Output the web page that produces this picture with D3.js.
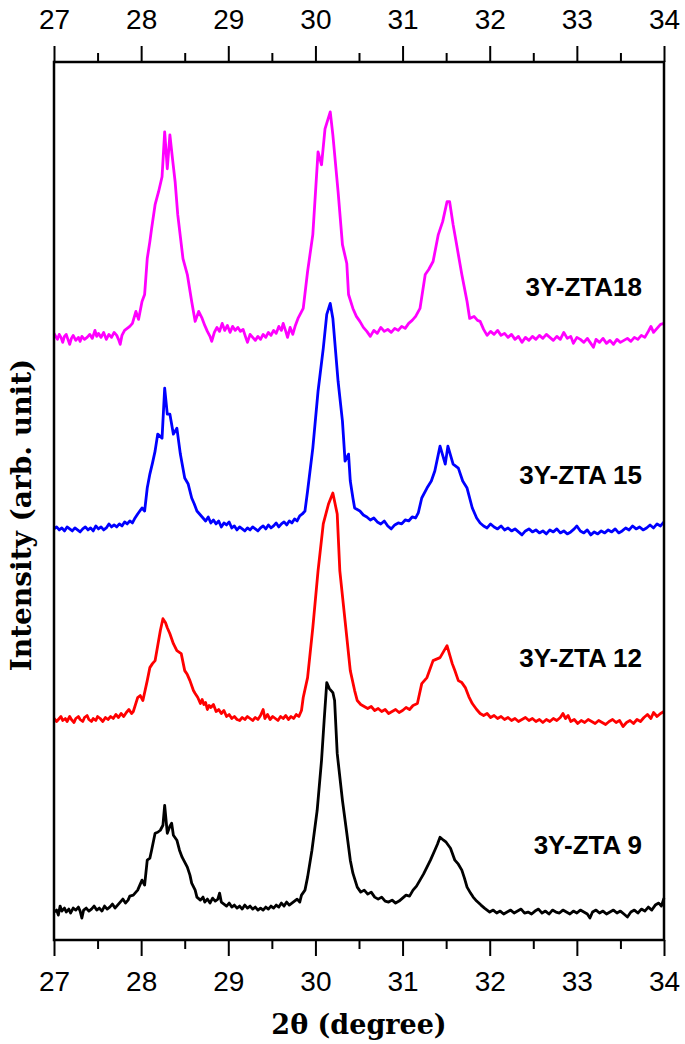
<!DOCTYPE html>
<html>
<head>
<meta charset="utf-8">
<script src="https://cdn.jsdelivr.net/npm/d3@7"></script>
<style>
  body { margin: 0; background: #fff; }
  svg { display: block; }
</style>
</head>
<body>
<svg id="chart" width="685" height="1044"></svg>
<script>
// x-axis ticks (2theta, degree)
const majorTicks = [27, 28, 29, 30, 31, 32, 33, 34];
const minorTicks = [27.5, 28.5, 29.5, 30.5, 31.5, 32.5, 33.5];

// sample names, colours and vertical stacking offsets (arb. unit)
const samples = ["3Y-ZTA 9", "3Y-ZTA 12", "3Y-ZTA 15", "3Y-ZTA18"];
const colors = ["#000000", "#ff0000", "#0000ff", "#ff00ff"];
const offsets = [10, 200, 390, 580];

// [2theta, intensity]
const zta9 = [
  [27.00,18],[27.03,20],[27.05,15],[27.07,24],[27.09,19],[27.12,22],[27.14,18],[27.17,21],[27.19,17],[27.22,22],
  [27.25,20],[27.28,23],[27.30,19],[27.32,12],[27.34,20],[27.37,22],[27.40,19],[27.43,21],[27.46,24],[27.49,20],
  [27.52,22],[27.55,19],[27.58,24],[27.61,21],[27.64,23],[27.67,26],[27.70,22],[27.73,25],[27.76,28],[27.79,31],
  [27.82,27],[27.85,30],[27.87,34],[27.91,35],[27.96,40],[28.01,50],[28.04,45],[28.07,70],[28.10,72],[28.12,80],
  [28.16,97],[28.19,98],[28.22,100],[28.25,105],[28.27,125],[28.30,97],[28.33,104],[28.35,107],[28.37,95],[28.41,90],
  [28.44,80],[28.47,73],[28.50,68],[28.53,63],[28.56,55],[28.58,47],[28.62,40],[28.64,33],[28.68,30],[28.71,33],
  [28.73,28],[28.76,31],[28.79,27],[28.82,32],[28.85,29],[28.88,31],[28.90,37],[28.92,28],[28.95,26],[28.98,24],
  [29.01,27],[29.04,23],[29.07,25],[29.10,22],[29.13,24],[29.16,21],[29.19,25],[29.22,22],[29.25,24],[29.28,21],
  [29.31,23],[29.34,20],[29.37,22],[29.40,20],[29.43,23],[29.46,21],[29.49,24],[29.52,22],[29.55,25],[29.58,23],
  [29.61,27],[29.64,24],[29.67,28],[29.70,25],[29.73,27],[29.76,29],[29.79,31],[29.82,28],[29.84,35],[29.88,40],
  [29.91,53],[29.96,80],[30.02,120],[30.07,170],[30.10,210],[30.13,248],[30.16,242],[30.20,238],[30.22,230],[30.25,177],
  [30.31,130],[30.36,97],[30.40,70],[30.43,57],[30.48,43],[30.52,38],[30.56,40],[30.60,36],[30.64,38],[30.68,33],
  [30.72,31],[30.76,33],[30.80,29],[30.84,28],[30.88,30],[30.92,27],[30.96,29],[31.00,32],[31.04,35],[31.08,34],
  [31.12,40],[31.16,44],[31.20,50],[31.24,56],[31.28,63],[31.32,70],[31.37,80],[31.40,86],[31.43,93],[31.47,90],
  [31.50,88],[31.55,82],[31.60,70],[31.64,66],[31.68,60],[31.71,52],[31.74,43],[31.78,37],[31.81,33],[31.85,29],
  [31.90,25],[31.94,22],[31.97,20],[32.00,18],[32.04,20],[32.08,17],[32.12,19],[32.16,16],[32.20,18],[32.24,20],
  [32.28,17],[32.32,19],[32.36,21],[32.40,17],[32.44,18],[32.48,16],[32.52,19],[32.56,21],[32.60,17],[32.64,19],
  [32.68,16],[32.72,20],[32.76,18],[32.80,17],[32.84,20],[32.88,18],[32.92,16],[32.96,19],[33.00,17],[33.04,20],
  [33.08,18],[33.12,16],[33.15,12],[33.18,18],[33.22,20],[33.26,17],[33.30,19],[33.34,16],[33.38,18],[33.42,20],
  [33.46,17],[33.50,19],[33.54,16],[33.58,13],[33.62,18],[33.66,20],[33.70,17],[33.74,21],[33.78,19],[33.82,23],
  [33.86,20],[33.90,25],[33.94,27],[33.97,24],[34.00,32]
];
const zta12 = [
  [27.00,22],[27.03,19],[27.05,21],[27.08,24],[27.10,20],[27.13,22],[27.15,19],[27.18,24],[27.20,21],[27.23,18],
  [27.25,22],[27.28,24],[27.30,21],[27.33,19],[27.35,23],[27.38,25],[27.40,21],[27.43,19],[27.45,22],[27.48,20],
  [27.50,24],[27.53,22],[27.56,19],[27.59,23],[27.62,21],[27.65,24],[27.68,22],[27.71,26],[27.74,23],[27.77,27],
  [27.80,24],[27.83,28],[27.86,31],[27.89,27],[27.91,29],[27.96,43],[27.99,45],[28.02,40],[28.07,60],[28.10,73],
  [28.13,77],[28.16,80],[28.19,95],[28.22,110],[28.25,122],[28.28,118],[28.30,113],[28.33,107],[28.37,97],[28.41,90],
  [28.46,87],[28.50,70],[28.53,66],[28.56,60],[28.60,50],[28.62,47],[28.65,43],[28.68,37],[28.70,41],[28.72,36],
  [28.74,38],[28.76,31],[28.78,35],[28.80,33],[28.83,36],[28.86,29],[28.89,31],[28.92,27],[28.95,30],[28.98,24],
  [29.01,26],[29.04,22],[29.07,24],[29.10,21],[29.13,20],[29.16,23],[29.19,21],[29.22,24],[29.25,22],[29.28,20],
  [29.31,23],[29.34,21],[29.37,25],[29.40,31],[29.42,22],[29.45,26],[29.48,21],[29.51,24],[29.54,22],[29.57,20],
  [29.60,24],[29.63,22],[29.66,25],[29.69,21],[29.72,24],[29.75,22],[29.78,26],[29.81,24],[29.84,30],[29.86,43],
  [29.91,63],[29.97,113],[30.03,170],[30.09,217],[30.15,237],[30.20,248],[30.25,227],[30.28,170],[30.34,120],[30.40,70],
  [30.45,50],[30.48,40],[30.52,36],[30.56,34],[30.60,32],[30.64,34],[30.68,30],[30.72,32],[30.76,29],[30.80,31],
  [30.84,27],[30.88,29],[30.92,31],[30.96,28],[31.00,30],[31.04,33],[31.08,31],[31.12,35],[31.17,37],[31.22,57],
  [31.28,63],[31.35,80],[31.43,83],[31.51,95],[31.57,77],[31.60,70],[31.64,60],[31.68,58],[31.72,53],[31.76,44],
  [31.80,37],[31.85,31],[31.89,27],[31.93,25],[31.97,27],[32.01,23],[32.05,25],[32.09,22],[32.13,24],[32.17,21],
  [32.21,23],[32.25,20],[32.29,22],[32.33,19],[32.37,21],[32.41,23],[32.45,20],[32.49,22],[32.53,19],[32.57,21],
  [32.61,18],[32.65,21],[32.69,19],[32.73,22],[32.77,20],[32.81,23],[32.84,27],[32.87,22],[32.90,25],[32.93,19],
  [32.97,21],[33.01,17],[33.05,20],[33.09,18],[33.13,21],[33.17,19],[33.21,17],[33.25,20],[33.29,18],[33.33,16],
  [33.37,19],[33.41,21],[33.45,18],[33.49,20],[33.53,14],[33.57,18],[33.61,20],[33.65,17],[33.69,21],[33.73,19],
  [33.77,23],[33.81,26],[33.85,22],[33.88,28],[33.92,24],[33.96,27],[34.00,29]
];
const zta15 = [
  [27.00,22],[27.03,24],[27.06,21],[27.09,23],[27.12,20],[27.15,24],[27.18,22],[27.21,20],[27.24,23],[27.27,21],
  [27.30,19],[27.33,22],[27.36,24],[27.39,21],[27.42,23],[27.45,20],[27.48,25],[27.51,22],[27.54,24],[27.57,21],
  [27.60,23],[27.63,27],[27.66,24],[27.69,26],[27.72,24],[27.75,27],[27.78,25],[27.81,29],[27.84,27],[27.87,30],
  [27.90,28],[27.93,33],[27.96,37],[28.01,43],[28.04,40],[28.07,63],[28.10,77],[28.13,88],[28.16,100],[28.19,117],
  [28.24,113],[28.27,163],[28.30,137],[28.33,137],[28.37,117],[28.41,123],[28.45,97],[28.50,73],[28.54,67],[28.58,53],
  [28.61,47],[28.64,40],[28.68,36],[28.71,33],[28.74,30],[28.77,34],[28.80,28],[28.83,31],[28.86,27],[28.89,30],
  [28.92,24],[28.95,28],[28.98,26],[29.01,29],[29.04,23],[29.07,25],[29.10,21],[29.13,24],[29.16,22],[29.19,20],
  [29.22,23],[29.25,21],[29.28,24],[29.31,22],[29.34,20],[29.37,23],[29.40,25],[29.43,22],[29.46,26],[29.49,23],
  [29.52,25],[29.55,28],[29.58,24],[29.61,27],[29.64,29],[29.67,26],[29.70,30],[29.73,28],[29.76,32],[29.79,30],
  [29.82,35],[29.85,37],[29.88,40],[29.91,60],[29.97,103],[30.03,160],[30.09,203],[30.13,237],[30.17,248],[30.20,233],
  [30.26,170],[30.31,130],[30.34,90],[30.38,97],[30.40,70],[30.43,53],[30.45,43],[30.51,40],[30.55,36],[30.59,34],
  [30.63,31],[30.67,33],[30.71,29],[30.75,27],[30.79,30],[30.83,25],[30.87,22],[30.91,26],[30.95,28],[30.99,27],
  [31.03,31],[31.07,30],[31.11,34],[31.15,33],[31.18,38],[31.22,53],[31.28,63],[31.33,70],[31.37,80],[31.43,105],
  [31.49,87],[31.52,105],[31.58,87],[31.64,83],[31.69,70],[31.74,63],[31.80,43],[31.85,33],[31.89,28],[31.93,25],
  [31.97,23],[32.01,27],[32.05,24],[32.09,22],[32.13,25],[32.17,21],[32.21,23],[32.25,20],[32.29,22],[32.33,19],
  [32.37,16],[32.41,20],[32.45,22],[32.49,19],[32.53,21],[32.57,18],[32.61,20],[32.65,17],[32.69,21],[32.73,19],
  [32.77,22],[32.81,18],[32.85,20],[32.89,17],[32.93,19],[32.97,22],[33.00,25],[33.04,20],[33.08,18],[33.12,21],
  [33.16,16],[33.20,19],[33.24,17],[33.28,20],[33.32,18],[33.36,21],[33.40,19],[33.44,22],[33.48,18],[33.52,20],
  [33.56,23],[33.60,21],[33.64,25],[33.68,22],[33.72,24],[33.76,21],[33.80,23],[33.84,26],[33.88,23],[33.92,27],
  [33.96,25],[34.00,29]
];
const zta18 = [
  [27.00,28],[27.02,25],[27.04,22],[27.06,27],[27.08,24],[27.10,19],[27.12,25],[27.14,27],[27.16,22],[27.18,17],
  [27.20,23],[27.22,26],[27.25,21],[27.28,24],[27.30,20],[27.32,25],[27.35,22],[27.38,24],[27.41,27],[27.44,23],
  [27.47,31],[27.49,25],[27.51,28],[27.54,24],[27.57,29],[27.60,22],[27.63,27],[27.66,24],[27.69,29],[27.72,26],
  [27.74,22],[27.76,17],[27.78,26],[27.81,31],[27.84,33],[27.87,35],[27.90,38],[27.94,50],[27.97,42],[28.01,60],
  [28.04,67],[28.07,103],[28.10,120],[28.12,133],[28.16,157],[28.20,170],[28.24,185],[28.27,230],[28.30,193],[28.33,227],
  [28.36,203],[28.39,180],[28.42,147],[28.45,125],[28.48,103],[28.53,87],[28.58,60],[28.62,40],[28.66,50],[28.70,43],
  [28.73,36],[28.76,30],[28.79,25],[28.81,20],[28.84,29],[28.87,34],[28.90,30],[28.93,38],[28.96,31],[28.99,36],
  [29.02,29],[29.05,35],[29.08,31],[29.11,34],[29.14,30],[29.17,32],[29.20,24],[29.22,19],[29.25,27],[29.28,24],
  [29.31,21],[29.34,25],[29.37,22],[29.40,27],[29.43,24],[29.46,29],[29.49,26],[29.52,31],[29.55,28],[29.58,35],
  [29.61,31],[29.63,38],[29.66,30],[29.68,24],[29.71,34],[29.74,27],[29.77,36],[29.80,43],[29.86,53],[29.91,90],
  [29.97,127],[30.03,210],[30.07,197],[30.11,233],[30.17,250],[30.20,227],[30.26,170],[30.31,117],[30.36,98],[30.38,67],
  [30.43,53],[30.47,45],[30.51,40],[30.55,34],[30.59,30],[30.63,25],[30.67,31],[30.71,28],[30.75,34],[30.79,30],
  [30.83,32],[30.87,29],[30.91,33],[30.95,31],[30.99,35],[31.03,33],[31.07,38],[31.11,41],[31.15,45],[31.20,53],
  [31.26,87],[31.30,92],[31.35,100],[31.41,127],[31.46,140],[31.51,160],[31.54,160],[31.58,137],[31.62,117],[31.68,87],
  [31.74,60],[31.77,43],[31.82,45],[31.86,41],[31.89,40],[31.93,32],[31.97,26],[32.01,30],[32.05,27],[32.09,31],
  [32.13,26],[32.17,28],[32.21,24],[32.25,27],[32.29,22],[32.33,25],[32.37,19],[32.41,24],[32.45,21],[32.49,25],
  [32.53,22],[32.57,26],[32.61,23],[32.65,27],[32.69,24],[32.73,21],[32.77,25],[32.81,22],[32.85,29],[32.89,23],
  [32.93,25],[32.96,18],[33.00,24],[33.04,22],[33.08,19],[33.12,23],[33.16,18],[33.19,14],[33.22,22],[33.26,19],
  [33.30,23],[33.34,18],[33.38,21],[33.42,17],[33.46,22],[33.50,19],[33.54,21],[33.58,23],[33.62,20],[33.66,24],
  [33.70,22],[33.74,26],[33.78,24],[33.82,30],[33.85,35],[33.88,29],[33.92,33],[33.96,37],[34.00,38]
];
const series = [zta9, zta12, zta15, zta18];

const svg = d3.select("#chart");
const margin = {top: 62, right: 21, bottom: 104, left: 54};
const W = 685, H = 1044;
const iw = W - margin.left - margin.right;
const ih = H - margin.top - margin.bottom;

const x = d3.scaleLinear().domain([27, 34]).range([0, iw]);
const y = d3.scaleLinear().domain([0, 880]).range([ih, 0]);

const g = svg.append("g").attr("transform", `translate(${margin.left},${margin.top})`);

const line = d3.line()
  .x(d => x(d[0]))
  .y(d => y(d[1]));

series.forEach((s, i) => {
  g.append("path")
    .datum(s.map(d => [d[0], d[1] + offsets[i]]))
    .attr("fill", "none")
    .attr("stroke", colors[i])
    .attr("stroke-width", 2.8)
    .attr("stroke-linejoin", "round")
    .attr("d", line);
});

// sample labels
const labelY = [854, 667, 484, 296];
samples.forEach((name, i) => {
  svg.append("text")
    .attr("x", 642)
    .attr("y", labelY[i])
    .attr("text-anchor", "end")
    .attr("font-family", "Liberation Sans, Arial, sans-serif")
    .attr("font-weight", "bold")
    .attr("font-size", 26)
    .attr("fill", "#000")
    .text(name);
});

// frame
g.append("rect")
  .attr("width", iw)
  .attr("height", ih)
  .attr("fill", "none")
  .attr("stroke", "#000")
  .attr("stroke-width", 2.5);

function styleAxis(sel) {
  sel.select(".domain").remove();
  sel.selectAll("line").attr("stroke", "#000").attr("stroke-width", 2);
  sel.selectAll("text")
    .attr("font-family", "Liberation Sans, Arial, sans-serif")
    .attr("font-size", 28)
    .attr("fill", "#000");
}

const topMajor = d3.axisTop(x).tickValues(majorTicks).tickSize(16).tickPadding(17).tickFormat(d3.format("d"));
const topMinor = d3.axisTop(x).tickValues(minorTicks).tickSize(9).tickFormat("");
const botMajor = d3.axisBottom(x).tickValues(majorTicks).tickSize(16).tickPadding(15).tickFormat(d3.format("d"));
const botMinor = d3.axisBottom(x).tickValues(minorTicks).tickSize(9).tickFormat("");

g.append("g").call(topMajor).call(styleAxis);
g.append("g").call(topMinor).call(styleAxis);
g.append("g").attr("transform", `translate(0,${ih})`).call(botMajor).call(styleAxis);
g.append("g").attr("transform", `translate(0,${ih})`).call(botMinor).call(styleAxis);

// axis titles
svg.append("text")
  .attr("x", margin.left + iw / 2)
  .attr("y", 1034)
  .attr("text-anchor", "middle")
  .attr("font-family", "DejaVu Serif, serif")
  .attr("font-weight", "bold")
  .attr("font-size", 27)
  .text("2θ (degree)");

svg.append("text")
  .attr("transform", "translate(31,515) rotate(-90)")
  .attr("text-anchor", "middle")
  .attr("font-family", "DejaVu Serif, serif")
  .attr("font-weight", "bold")
  .attr("font-size", 28)
  .text("Intensity (arb. unit)");
</script>
</body>
</html>
